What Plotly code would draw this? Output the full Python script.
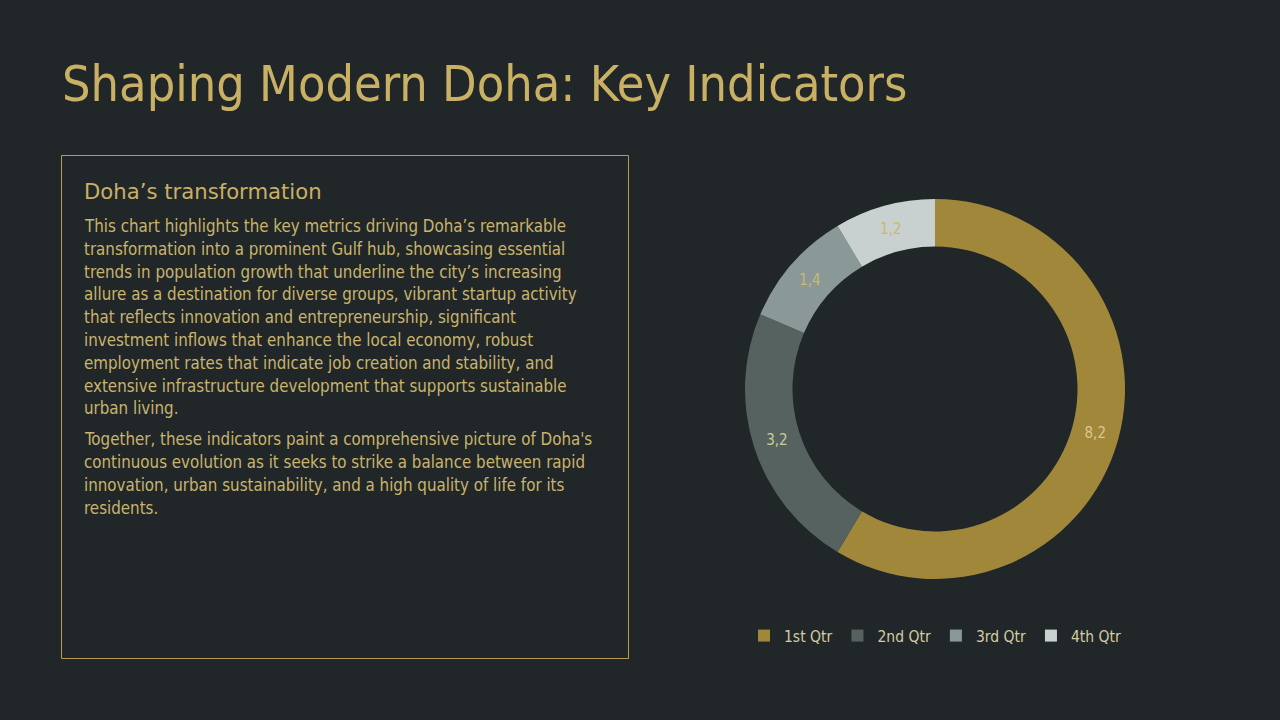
import plotly.graph_objects as go

# ---- data ----
categories = ["1st Qtr", "2nd Qtr", "3rd Qtr", "4th Qtr"]
values = [8.2, 3.2, 1.4, 1.2]
slice_colors = ["#A0873A", "#56625F", "#8A9997", "#C9D1D0"]
label_colors = ["#D8C890", "#CFCB98", "#CDB86A", "#CDB86A"]

title_text = "Shaping Modern Doha: Key Indicators"
box_heading = "Doha\u2019s transformation"
para1 = [
    "This chart highlights the key metrics driving Doha\u2019s remarkable",
    "transformation into a prominent Gulf hub, showcasing essential",
    "trends in population growth that underline the city\u2019s increasing",
    "allure as a destination for diverse groups, vibrant startup activity",
    "that reflects innovation and entrepreneurship, significant",
    "investment inflows that enhance the local economy, robust",
    "employment rates that indicate job creation and stability, and",
    "extensive infrastructure development that supports sustainable",
    "urban living.",
]
para2 = [
    "Together, these indicators paint a comprehensive picture of Doha's",
    "continuous evolution as it seeks to strike a balance between rapid",
    "innovation, urban sustainability, and a high quality of life for its",
    "residents.",
]

W, H = 1280, 720
BG = "#212728"
GOLD = "#C9B064"
TEXT = "#C9B46C"
FONT = "DejaVu Sans Condensed, DejaVu Sans, Verdana, sans-serif"
FONT_WIDE = "DejaVu Sans, Verdana, sans-serif"

fig = go.Figure()
fig.add_trace(go.Pie(
    labels=categories,
    values=values,
    hole=0.75,
    sort=False,
    direction="clockwise",
    rotation=0,
    marker=dict(colors=slice_colors, line=dict(width=0)),
    textinfo="value",
    textposition="inside",
    insidetextorientation="horizontal",
    insidetextfont=dict(color=label_colors, size=15, family=FONT),
    domain=dict(x=[745 / W, 1125 / W], y=[(H - 579) / H, (H - 199) / H]),
    hoverinfo="label+value",
))

def px_x(x):
    return x / W

def px_y(y):
    return 1 - y / H

annotations = []
annotations.append(dict(
    x=px_x(60), y=px_y(84), xref="paper", yref="paper", text=title_text,
    showarrow=False, xanchor="left", yanchor="middle",
    font=dict(family=FONT, size=50, color=GOLD),
))
annotations.append(dict(
    x=px_x(82), y=px_y(192), xref="paper", yref="paper", text=box_heading,
    showarrow=False, xanchor="left", yanchor="middle",
    font=dict(family=FONT_WIDE, size=21.2, color=GOLD),
))
y = 226
for line in para1:
    annotations.append(dict(
        x=px_x(82), y=px_y(y), xref="paper", yref="paper", text=line,
        showarrow=False, xanchor="left", yanchor="middle",
        font=dict(family=FONT, size=16.8, color=TEXT),
    ))
    y += 22.8
y = 439
for line in para2:
    annotations.append(dict(
        x=px_x(82), y=px_y(y), xref="paper", yref="paper", text=line,
        showarrow=False, xanchor="left", yanchor="middle",
        font=dict(family=FONT, size=16.8, color=TEXT),
    ))
    y += 23

fig.update_layout(
    width=W, height=H,
    paper_bgcolor=BG, plot_bgcolor=BG,
    margin=dict(l=0, r=0, t=0, b=0),
    separators=", ",
    showlegend=True,
    legend=dict(
        orientation="h", x=935 / W, xanchor="center", y=px_y(636), yanchor="middle",
        font=dict(family=FONT, size=15.5, color="#D6CBA2"),
        bgcolor="rgba(0,0,0,0)", itemwidth=30,
    ),
    annotations=annotations,
    shapes=[dict(
        type="rect", xref="paper", yref="paper",
        x0=px_x(61.5), x1=px_x(628.5), y0=px_y(658.5), y1=px_y(155.5),
        line=dict(color="#B59B55", width=1), fillcolor="rgba(0,0,0,0)",
    )],
)

fig.write_html(
    "out.html",
    config={"displayModeBar": False},
    post_script="document.body.style.margin='0';document.body.style.background='#212728';",
)
